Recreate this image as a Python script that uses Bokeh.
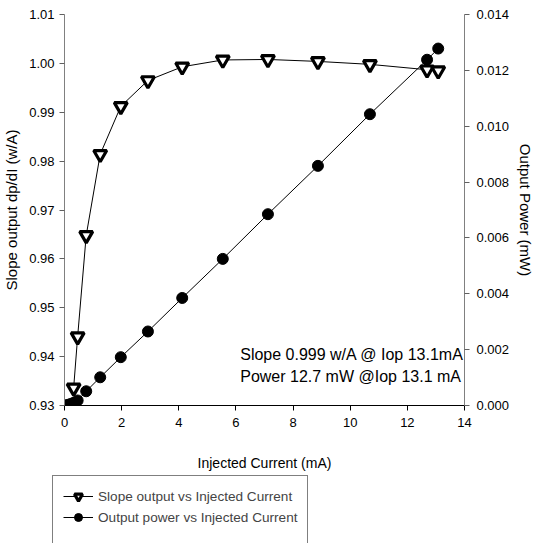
from bokeh.plotting import figure
from bokeh.layouts import column, row
from bokeh.models import (Range1d, LinearAxis, FixedTicker, PrintfTickFormatter,
                          Legend, LegendItem, Label)
from bokeh.embed import file_html
from bokeh.resources import INLINE

# ---- data ----
slope_current = [0.32, 0.46, 0.76, 1.25, 1.97, 2.92, 4.12, 5.54, 7.12, 8.87, 10.69, 12.69, 13.08]
slope_values = [0.9336, 0.9441, 0.9648, 0.9814, 0.9912, 0.9965, 0.9993, 1.0007, 1.0008,
                1.0004, 0.9998, 0.9987, 0.9985]
power_current = [0.0, 0.1, 0.2, 0.32, 0.46, 0.76, 1.25, 1.97, 2.92, 4.12, 5.54, 7.12, 8.87,
                 10.69, 12.69, 13.08]
power_values = [0.0, 0.00002, 0.00005, 0.0001, 0.00018, 0.00051, 0.00101, 0.00173, 0.00265,
                0.00385, 0.00525, 0.00685, 0.00858, 0.01043, 0.01238, 0.01278]
x_ticks = [0, 2, 4, 6, 8, 10, 12, 14]
slope_ticks = [0.93, 0.94, 0.95, 0.96, 0.97, 0.98, 0.99, 1.00, 1.01]
power_ticks = [0.0, 0.002, 0.004, 0.006, 0.008, 0.010, 0.012, 0.014]
note_lines = ["Slope 0.999 w/A @ Iop 13.1mA", "Power 12.7 mW @Iop 13.1 mA"]
legend_labels = ["Slope output vs Injected Current", "Output power vs Injected Current"]

FONT = "Liberation Sans"
NAN = float("nan")

p = figure(width=537, height=474, output_backend="svg", toolbar_location=None,
           x_range=Range1d(0, 14), y_range=Range1d(0.93, 1.01),
           min_border_left=64, min_border_right=70, min_border_top=14,
           min_border_bottom=69)
p.extra_y_ranges = {"power": Range1d(0, 0.014)}
p.outline_line_color = None
p.xgrid.visible = False
p.ygrid.visible = False
p.background_fill_color = "white"
p.border_fill_color = "white"

TRI = dict(marker="inverted_triangle", size=13, fill_color="white", line_color="black",
           line_width=3.2)
DOT = dict(marker="circle", size=11, fill_color="black", line_color="black")

# power series
p.line(power_current, power_values, y_range_name="power", line_color="black", line_width=1)
p.scatter(power_current, power_values, y_range_name="power", **DOT)
# slope series
p.line(slope_current, slope_values, line_color="black", line_width=1)
p.scatter(slope_current, slope_values, **TRI)

# axes
p.xaxis.ticker = FixedTicker(ticks=x_ticks)
p.xaxis.formatter = PrintfTickFormatter(format="%d")
p.xaxis.axis_label = "Injected Current (mA)"
p.yaxis.ticker = FixedTicker(ticks=slope_ticks)
p.yaxis.formatter = PrintfTickFormatter(format="%.2f")
p.yaxis.axis_label = "Slope output dp/dI (w/A)"

right = LinearAxis(y_range_name="power", ticker=FixedTicker(ticks=power_ticks),
                   formatter=PrintfTickFormatter(format="%.3f"),
                   axis_label="Output Power (mW)")
p.add_layout(right, "right")

for ax in [p.xaxis[0], p.yaxis[0], right]:
    ax.major_label_text_font = FONT
    ax.major_label_text_font_size = "13px"
    ax.major_label_text_color = "black"
    ax.axis_label_text_font = FONT
    ax.axis_label_text_font_style = "normal"
    ax.axis_label_text_color = "black"
    ax.minor_tick_line_color = None
    ax.major_tick_in = 0
    ax.major_tick_out = 5
    ax.major_label_standoff = 5

p.xaxis.axis_label_text_font_size = "14px"
p.xaxis.major_label_standoff = 7
p.xaxis.axis_label_standoff = 25
p.xaxis.axis_line_color = "black"
p.xaxis.major_tick_line_color = "black"
for ax in [p.yaxis[0], right]:
    ax.axis_line_color = "#808080"
    ax.major_tick_line_color = "#606060"
    ax.axis_label_text_font_size = "15px"
p.yaxis.axis_label_standoff = 6
right.major_label_standoff = 7
right.axis_label_standoff = 5

# annotation text
for i, t in enumerate(note_lines):
    p.add_layout(Label(x=6.15, y=0.94035 - i * 0.00449, text=t, text_font=FONT,
                       text_font_size="16px", text_baseline="middle", text_color="black"))

# ---- legend panel below the chart ----
q = figure(width=537, height=69, output_backend="svg", toolbar_location=None,
           x_range=Range1d(0, 1), y_range=Range1d(0, 1), x_axis_type=None,
           y_axis_type=None, min_border=0, min_border_left=0, min_border_right=0,
           min_border_top=0, min_border_bottom=0)
q.outline_line_color = None
q.xgrid.visible = False
q.ygrid.visible = False
q.background_fill_color = "white"
q.border_fill_color = "white"

l1 = q.line([NAN], [NAN], line_color="black", line_width=1)
m1 = q.scatter([NAN], [NAN], **TRI)
l2 = q.line([NAN], [NAN], line_color="black", line_width=1)
m2 = q.scatter([NAN], [NAN], **DOT)
dummy = q.scatter([NAN], [NAN], marker="circle", size=1, fill_alpha=0, line_alpha=0)

legend = Legend(items=[
    LegendItem(label=legend_labels[0], renderers=[l1, m1]),
    LegendItem(label=legend_labels[1], renderers=[l2, m2]),
    LegendItem(label=" ", renderers=[dummy]),
], location=(52, -16))
legend.label_text_font = FONT
legend.label_text_font_size = "13.6px"
legend.glyph_width = 30
legend.glyph_height = 20
legend.label_height = 20
legend.spacing = 1
legend.padding = 10
legend.margin = 0
legend.label_standoff = 5
legend.border_line_color = "black"
legend.border_line_width = 1
legend.background_fill_color = "white"
legend.background_fill_alpha = 1
q.add_layout(legend, "center")

layout = column(p, row(q), spacing=0)
open("out.html", "w").write(file_html(layout, INLINE))
